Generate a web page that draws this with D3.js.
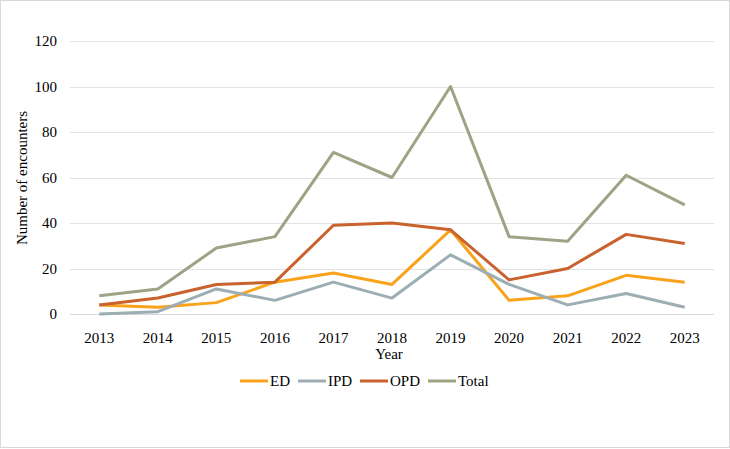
<!DOCTYPE html>
<html>
<head>
<meta charset="utf-8">
<script src="https://cdn.jsdelivr.net/npm/d3@7"></script>
<style>
  body { margin: 0; background: #fff; }
  svg text { font-family: "Liberation Serif", "Times New Roman", serif; fill: #000; }
</style>
</head>
<body>
<div id="chart"></div>
<script>
// values
var years = ["2013","2014","2015","2016","2017","2018","2019","2020","2021","2022","2023"]
var ed    = [4, 3, 5, 14, 18, 13, 37, 6, 8, 17, 14]
var ipd   = [0, 1, 11, 6, 14, 7, 26, 13, 4, 9, 3]
var opd   = [4, 7, 13, 14, 39, 40, 37, 15, 20, 35, 31]
var total = [8, 11, 29, 34, 71, 60, 100, 34, 32, 61, 48]
var yTicks = [0, 20, 40, 60, 80, 100, 120]

var series = [
  {name: "ED", values: ed, color: "#F9A31B"},
  {name: "IPD", values: ipd, color: "#9DADB4"},
  {name: "OPD", values: opd, color: "#C9622D"},
  {name: "Total", values: total, color: "#9DA385"}
]

var w = 730, h = 449
var svg = d3.select("#chart").append("svg")
  .attr("width", w)
  .attr("height", h)

// outer frame
svg.append("rect")
  .attr("x", 0.5).attr("y", 0.5)
  .attr("width", w - 1).attr("height", h - 2)
  .attr("fill", "#fff")
  .attr("stroke", "#d9d9d9")

var x = d3.scaleBand().domain(years).range([70, 714])
var y = d3.scaleLinear().domain([0, 120]).range([314, 41])

// gridlines
svg.append("g").selectAll("line")
  .data(yTicks)
  .join("line")
  .attr("x1", 70).attr("x2", 714)
  .attr("y1", function(d) { return Math.round(y(d)) + 0.5 })
  .attr("y2", function(d) { return Math.round(y(d)) + 0.5 })
  .attr("stroke", d => d == 0 ? "#d9d9d9" : "#e3e3e3")
  .attr("stroke-width", 1)

// y labels
svg.append("g").selectAll("text")
  .data(yTicks)
  .join("text")
  .attr("x", 57)
  .attr("y", d => y(d))
  .attr("dy", "0.35em")
  .attr("text-anchor", "end")
  .attr("font-size", 15)
  .text(d => d)

// x labels
svg.append("g").selectAll("text")
  .data(years)
  .join("text")
  .attr("x", d => x(d) + x.bandwidth() / 2)
  .attr("y", 338)
  .attr("dy", "0.35em")
  .attr("text-anchor", "middle")
  .attr("font-size", 15)
  .text(d => d)

// axis titles
svg.append("text")
  .attr("x", 389).attr("y", 354)
  .attr("dy", "0.35em")
  .attr("text-anchor", "middle")
  .attr("font-size", 15)
  .text("Year")

svg.append("text")
  .attr("transform", "translate(22,178) rotate(-90)")
  .attr("dy", "0.35em")
  .attr("text-anchor", "middle")
  .attr("font-size", 15)
  .text("Number of encounters")

var line = d3.line()
  .x(function(d, i) { return x(years[i]) + x.bandwidth() / 2 })
  .y(function(d) { return y(d) })

svg.append("g").selectAll("path")
  .data(series)
  .join("path")
  .attr("d", d => line(d.values))
  .attr("fill", "none")
  .attr("stroke", d => d.color)
  .attr("stroke-width", 3)
  .attr("stroke-linejoin", "round")

// legend
var legendX = [240, 298, 360, 428]
var leg = svg.append("g").selectAll("g")
  .data(series)
  .join("g")
  .attr("transform", (d, i) => "translate(" + legendX[i] + ",381)")

leg.append("line")
  .attr("x1", 0).attr("x2", 28)
  .attr("stroke", d => d.color)
  .attr("stroke-width", 3)

leg.append("text")
  .attr("x", 30)
  .attr("dy", "0.35em")
  .attr("font-size", 15)
  .text(d => d.name)
</script>
</body>
</html>
